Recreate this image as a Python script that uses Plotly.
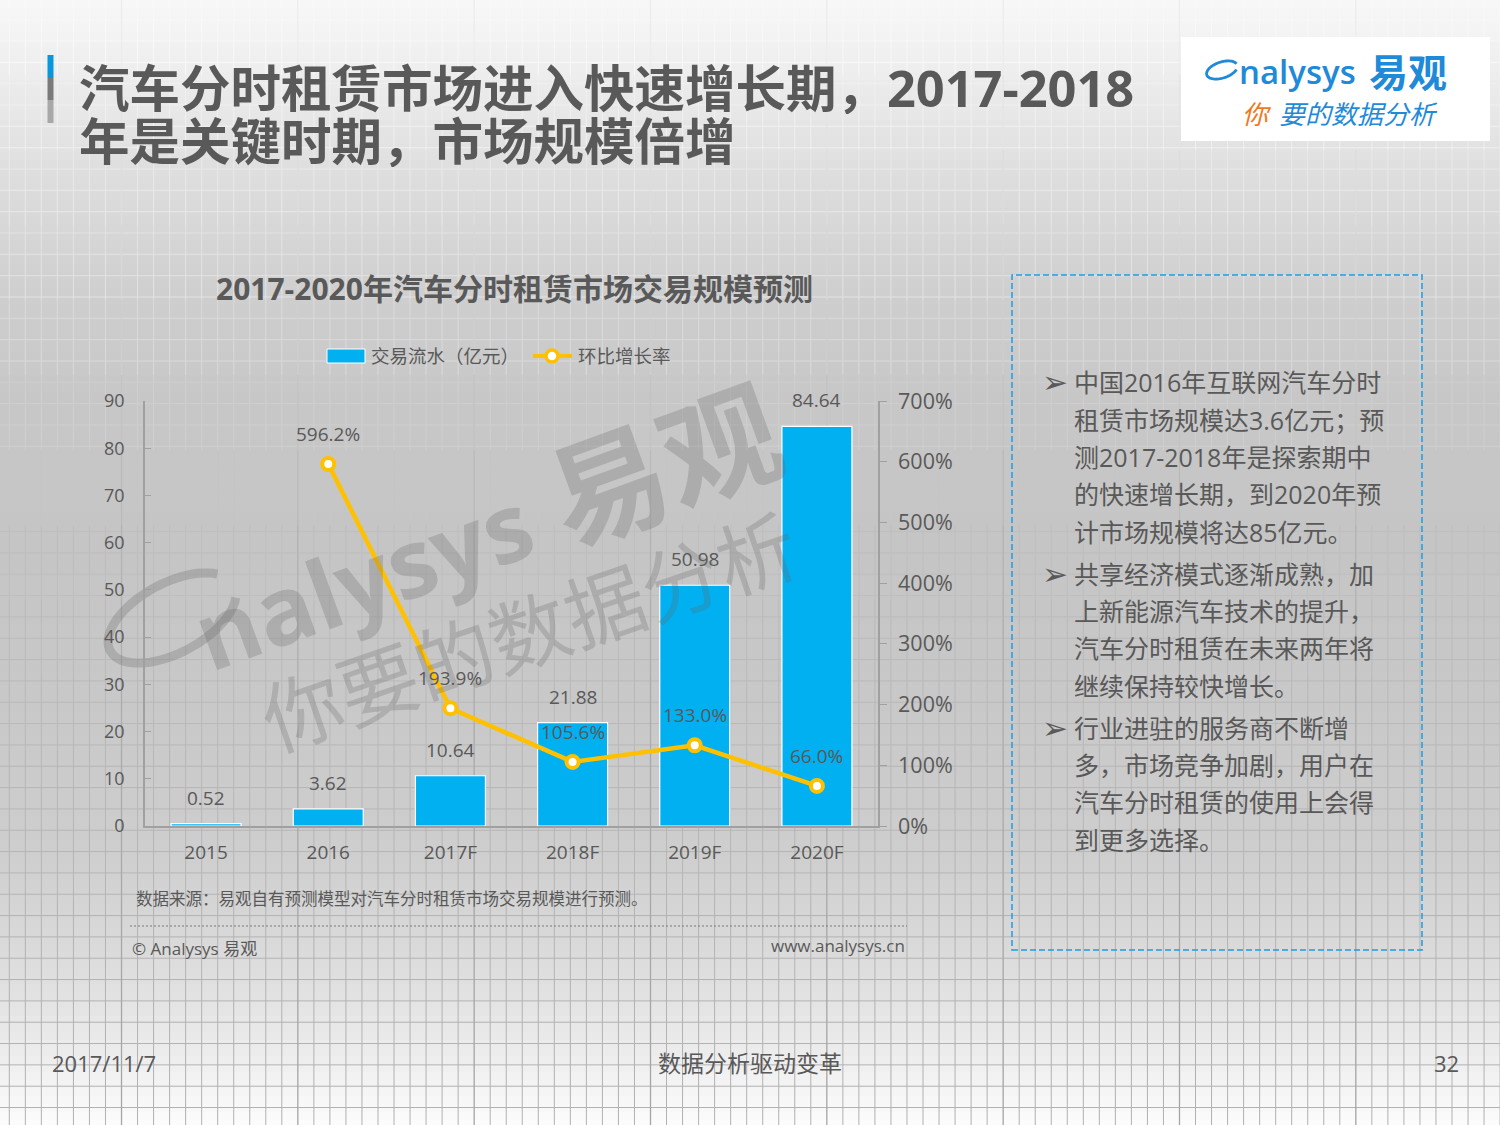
import plotly.graph_objects as go
import numpy as np

W, H = 1500, 1125

# ---------------- data ----------------
categories = ["2015", "2016", "2017F", "2018F", "2019F", "2020F"]
volume = [0.52, 3.62, 10.64, 21.88, 50.98, 84.64]
volume_labels = ["0.52", "3.62", "10.64", "21.88", "50.98", "84.64"]
growth = [None, 596.2, 193.9, 105.6, 133.0, 66.0]
growth_labels = [None, "596.2%", "193.9%", "105.6%", "133.0%", "66.0%"]
left_tickvals = [0, 10, 20, 30, 40, 50, 60, 70, 80, 90]
right_tickvals = [0, 100, 200, 300, 400, 500, 600, 700]
right_ticktext = ["0%", "100%", "200%", "300%", "400%", "500%", "600%", "700%"]
bar_name = "交易流水（亿元）"
line_name = "环比增长率"
chart_title = "2017-2020年汽车分时租赁市场交易规模预测"
title_line1 = "汽车分时租赁市场进入快速增长期，2017-2018"
title_line2 = "年是关键时期，市场规模倍增"
box_paragraphs = [
    ["中国2016年互联网汽车分时", "租赁市场规模达3.6亿元；预", "测2017-2018年是探索期中",
     "的快速增长期，到2020年预", "计市场规模将达85亿元。"],
    ["共享经济模式逐渐成熟，加", "上新能源汽车技术的提升，", "汽车分时租赁在未来两年将", "继续保持较快增长。"],
    ["行业进驻的服务商不断增", "多，市场竞争加剧，用户在", "汽车分时租赁的使用上会得", "到更多选择。"],
]
source_text = "数据来源：易观自有预测模型对汽车分时租赁市场交易规模进行预测。"

TXT = "#595959"
BLUE = "#00B0F0"
YEL = "#FFC000"
LOGO = "#1f8ad8"
F_LAT = "Open Sans, Noto Sans CJK SC, sans-serif"
F_CJK = "Noto Sans CJK SC, sans-serif"


def px(x):
    return x / W


def py(y):
    return 1 - y / H


shapes = []

# ---------------- background gradient ----------------
g_y = [0, 100, 200, 300, 400, 550, 700, 850, 950, 1050, 1125]
g_v = [248, 233, 218, 206, 199, 197, 200, 206, 218, 236, 252]
step = 8
for y0 in range(0, H, step):
    v = int(round(np.interp(y0 + step / 2, g_y, g_v)))
    shapes.append(dict(type="rect", xref="paper", yref="paper", x0=0, x1=1,
                       y0=py(min(y0 + step + 1, H)), y1=py(y0), layer="below",
                       line=dict(width=0), fillcolor=f"rgb({v},{v},{v})"))

# ---------------- background grid ----------------
l_y = [0, 150, 300, 420, 550, 700, 850, 1000, 1125]
l_v = [252, 236, 224, 206, 190, 184, 181, 178, 176]
xs = [9.3 + 16.03 * k for k in range(94)]
ys = [19.7 + 21.33 * j for j in range(53)]
band = 75
for b0 in range(0, H, band):
    b1 = min(b0 + band, H)
    v = int(round(np.interp((b0 + b1) / 2, l_y, l_v)))
    minor, major = [], []
    for k, x in enumerate(xs):
        seg = f"M{px(x):.5f},{py(b0):.5f}L{px(x):.5f},{py(b1):.5f}"
        (major if k % 11 == 7 else minor).append(seg)
    for y in ys:
        if b0 <= y < b1:
            minor.append(f"M0,{py(y):.5f}L1,{py(y):.5f}")
    shapes.append(dict(type="path", xref="paper", yref="paper", path="".join(minor),
                       layer="below", line=dict(color=f"rgb({v},{v},{v})", width=1)))
    vm = max(v - 12, 0)
    shapes.append(dict(type="path", xref="paper", yref="paper", path="".join(major),
                       layer="below", line=dict(color=f"rgb({vm},{vm},{vm})", width=1.3)))


def ellipse_path(cx, cy, rx, ry, rot_deg, a0=0, a1=360, n=60):
    t = np.radians(np.linspace(a0, a1, n))
    r = np.radians(rot_deg)
    ex = rx * np.cos(t)
    ey = ry * np.sin(t)
    X = cx + ex * np.cos(r) - ey * np.sin(r)
    Y = cy + ex * np.sin(r) + ey * np.cos(r)
    pts = [f"{px(a):.5f},{py(b):.5f}" for a, b in zip(X, Y)]
    return "M" + "L".join(pts)


# watermark swirl
shapes.append(dict(type="path", xref="paper", yref="paper", layer="below",
                   path=ellipse_path(172, 618, 70, 35, -28, 20, 330),
                   line=dict(color="rgba(110,110,110,0.30)", width=9)))

# title accent bar
for y0, y1, c in [(55, 78, "#0a96dc"), (78, 100, "#7a7a7a"), (100, 123, "#a8a8a8")]:
    shapes.append(dict(type="rect", xref="paper", yref="paper", x0=px(47.5), x1=px(53.5),
                       y0=py(y1), y1=py(y0), line=dict(width=0), fillcolor=c, layer="below"))

# logo box
shapes.append(dict(type="rect", xref="paper", yref="paper", x0=px(1181), x1=px(1490),
                   y0=py(141), y1=py(37), line=dict(width=0), fillcolor="white", layer="below"))
shapes.append(dict(type="path", xref="paper", yref="paper", layer="below",
                   path=ellipse_path(1222, 70, 16, 8, -18, 30, 350),
                   line=dict(color=LOGO, width=2.8)))

# dashed text box
shapes.append(dict(type="rect", xref="paper", yref="paper", x0=px(1012), x1=px(1422),
                   y0=py(950), y1=py(275), layer="below",
                   line=dict(color="#1b9de2", width=1.5, dash="6px,3px")))
# dotted separator
shapes.append(dict(type="line", xref="paper", yref="paper", x0=px(130), x1=px(907),
                   y0=py(926), y1=py(926), layer="below",
                   line=dict(color="#7a7a7a", width=1, dash="2px,2px")))

# manual legend
shapes.append(dict(type="rect", xref="paper", yref="paper", x0=px(327), x1=px(365),
                   y0=py(363), y1=py(349), fillcolor=BLUE, line=dict(color="white", width=1)))
shapes.append(dict(type="line", xref="paper", yref="paper", x0=px(533), x1=px(572),
                   y0=py(356), y1=py(356), line=dict(color=YEL, width=4)))
shapes.append(dict(type="circle", xref="paper", yref="paper", x0=px(546), x1=px(558),
                   y0=py(362), y1=py(350), fillcolor="white", line=dict(color=YEL, width=3.5)))

# ---------------- traces ----------------
fig = go.Figure()
fig.add_trace(go.Bar(x=categories, y=volume, name=bar_name,
                     marker=dict(color=BLUE, line=dict(color="white", width=1.2)),
                     hoverinfo="skip"))
fig.add_trace(go.Scatter(x=categories, y=growth, name=line_name, yaxis="y2",
                         mode="lines+markers",
                         line=dict(color=YEL, width=4.5),
                         marker=dict(symbol="circle", size=12, color="white",
                                     line=dict(color=YEL, width=4)),
                         hoverinfo="skip"))

ann = []
# data labels (category index positions on the category axis)
for i, (v, t) in enumerate(zip(volume, volume_labels)):
    ann.append(dict(x=i, y=v, xref="x", yref="y", text=t, showarrow=False, yshift=26,
                    font=dict(family=F_LAT, size=19, color=TXT)))
for i, (v, t) in enumerate(zip(growth, growth_labels)):
    if v is None:
        continue
    ann.append(dict(x=i, y=v, xref="x", yref="y2", text=t, showarrow=False,
                    yshift=30, font=dict(family=F_LAT, size=19, color=TXT)))


def note(x, y, text, size, color=TXT, family=F_LAT, xa="left", bold=False, angle=0,
         ya="middle", italic=False, weight=None, height=None):
    if bold:
        text = f"<b>{text}</b>"
    f = dict(family=family, size=size, color=color)
    if italic:
        f["style"] = "italic"
    if weight:
        f["weight"] = weight
    a = dict(x=px(x), y=py(y), xref="paper", yref="paper", text=text, showarrow=False,
             xanchor=xa, yanchor=ya, textangle=angle, font=f)
    if height:
        a["height"] = height
    ann.append(a)


# watermark
WM = "rgba(100,100,100,0.26)"
note(362, 578, "nalysys", 95, WM, "Open Sans, sans-serif", "center", True, -20)
note(662, 459, "易观", 118, WM, F_CJK, "center", True, -20)
note(528, 628, "你要的数据分析", 80, WM, F_CJK, "center", False, -19)

# titles
note(77, 88, title_line1, 50.5, TXT, F_LAT, "left", True, height=53)
note(77, 141, title_line2, 50.5, TXT, F_LAT, "left", True, height=53)
note(514, 288, chart_title, 30, TXT, F_LAT, "center", True)

# logo
note(1237, 71, "nalysys", 33, LOGO, "Open Sans, sans-serif", "left", weight=600)
note(1408, 70, "易观", 39, LOGO, F_CJK, "center", True, height=44)
note(1257, 112, "你", 26, "#f07820", F_CJK, "center", False, italic=True, height=30)
note(1277, 112, "要的数据分析", 26, LOGO, F_CJK, "left", False, italic=True, height=30)

# legend text
note(369, 356, bar_name, 18.5, TXT, F_LAT, "left")
note(576, 356, line_name, 18.5, TXT, F_LAT, "left")

# text box
line_ys = [[382, 419.6, 457, 494.4, 531.8], [573.6, 611, 648, 685.7], [727.6, 765, 802, 839.7]]
for para, yl in zip(box_paragraphs, line_ys):
    note(1055, yl[0], "➢", 31, TXT, "DejaVu Sans, sans-serif", "center")
    for t, yy in zip(para, yl):
        note(1072, yy, t, 25, TXT, F_LAT, "left")

# source & footers
note(134, 898, source_text, 16.5, TXT, F_LAT, "left")
note(130, 948, "© Analysys 易观", 17, TXT, F_LAT, "left")
note(907, 945, "www.analysys.cn", 17, TXT, F_LAT, "right")
note(50, 1063, "2017/11/7", 22, TXT, F_LAT, "left")
note(750, 1063, "数据分析驱动变革", 23, TXT, F_LAT, "center")
note(1461, 1063, "32", 22, TXT, F_LAT, "right")

AX = "#a0a0a0"
fig.update_layout(
    width=W, height=H, margin=dict(l=0, r=0, t=0, b=0, pad=0, autoexpand=False),
    paper_bgcolor="#d0d0d0", plot_bgcolor="rgba(0,0,0,0)",
    showlegend=False, bargap=0.427,
    shapes=shapes, annotations=ann,
    xaxis=dict(domain=[px(145), px(878)], type="category", range=[-0.5, 5.5],
               showline=True, linecolor=AX, automargin=False,
               linewidth=1.5, ticks="", showgrid=False, zeroline=False,
               tickfont=dict(family=F_LAT, size=19, color=TXT), ticklabelstandoff=8),
    yaxis=dict(domain=[py(826), py(401)], range=[0, 90], tickvals=left_tickvals,
               automargin=False,
               showline=True, linecolor=AX, linewidth=1.5, ticks="inside", ticklen=6,
               tickcolor=AX, showgrid=False, zeroline=False,
               tickfont=dict(family=F_LAT, size=18, color=TXT), ticklabelstandoff=15),
    yaxis2=dict(overlaying="y", side="right", range=[0, 700], tickvals=right_tickvals,
                automargin=False,
                ticktext=right_ticktext, showline=True, linecolor=AX, linewidth=1.5,
                ticks="outside", ticklen=7, tickcolor=AX, showgrid=False, zeroline=False,
                tickfont=dict(family=F_LAT, size=21.5, color=TXT), ticklabelstandoff=7),
)

fig.write_html("out.html", config={"displayModeBar": False},
               post_script="document.body.style.margin='0';")
